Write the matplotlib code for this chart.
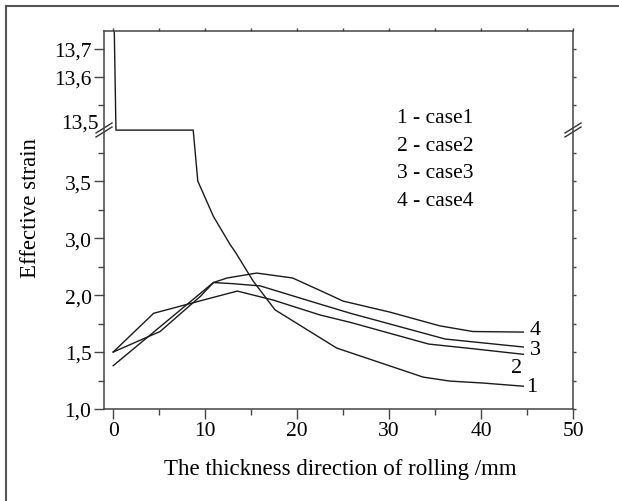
import numpy as np
import matplotlib
matplotlib.use("Agg")
import matplotlib.pyplot as plt
from matplotlib.lines import Line2D

plt.rcParams['font.family'] = ['Liberation Serif', 'DejaVu Serif']
plt.rcParams['font.size'] = 15.5

# データ (横軸: 厚さ方向 mm, 縦軸: 有効ひずみ)
x1 = [0.05, 0.3, 8.7, 9.2, 10.9, 12.7, 13.3, 15.2, 17.6, 24.3, 33.7, 36.6, 40.2, 44.6]
y1 = [13.9, 10.0, 10.0, 3.5, 3.19, 2.89, 2.75, 2.25, 1.87, 1.535, 1.28, 1.245, 1.228, 1.20]

x2 = [0, 4.4, 10.2, 13.5, 17.4, 22.5, 25.8, 34.3, 39.0, 44.6]
y2 = [1.50, 1.84, 1.965, 2.07, 1.956, 1.825, 1.76, 1.57, 1.53, 1.48]

x3 = [0, 5.1, 9.5, 10.9, 13.0, 16.0, 22.5, 25.8, 36.1, 44.6]
y3 = [1.50, 1.68, 1.99, 2.22, 2.20, 2.16, 1.92, 1.84, 1.614, 1.544]

x4 = [0, 10.9, 12.4, 15.6, 19.5, 22.5, 25.0, 30.1, 35.5, 39.1, 44.6]
y4 = [1.38, 2.22, 2.30, 2.386, 2.30, 2.08, 1.947, 1.85, 1.73, 1.68, 1.675]

series = [(x1, y1, '1'), (x2, y2, '2'), (x3, y3, '3'), (x4, y4, '4')]
legend_lines = ['1 - case1', '2 - case2', '3 - case3', '4 - case4']

y_major = [1.0, 1.5, 2.0, 3.0, 3.5, 13.6, 13.7]
y_major_labels = ['1,0', '1,5', '2,0', '3,0', '3,5', '13,6', '13,7']
y_minor = [1.25, 1.75, 2.5, 3.25, 3.75, 13.5]

# 縦軸の切断 (Origin風)
LO = 3.947
HI = 13.41
K = 2.456
EPS = 1e-4
P3 = LO - 0.5
P4 = P3 + (HI - LO) * EPS


def fwd(y):
    y = np.asarray(y, dtype=float)
    return np.where(y <= 2, y,
           np.where(y <= 3, 2 + (y - 2) / 2,
           np.where(y <= LO, y - 0.5,
           np.where(y <= HI, P3 + (y - LO) * EPS,
                    P4 + (y - HI) * K))))


def inv(p):
    p = np.asarray(p, dtype=float)
    return np.where(p <= 2, p,
           np.where(p <= 2.5, 2 + (p - 2) * 2,
           np.where(p <= P3, p + 0.5,
           np.where(p <= P4, LO + (p - P3) / EPS,
                    HI + (p - P4) / K))))


fig = plt.figure(figsize=(6.19, 5.02), dpi=100)
W, H = 619, 502
ax = fig.add_axes([104 / W, 1 - 410 / H, (573 - 104) / W, (410 - 32) / H])
ax.set_yscale('function', functions=(fwd, inv))

for xs, ys, lab in series:
    ax.plot(xs, ys, color='#1a1a1a', lw=1.0)

ax.set_xlim(-1, 50)
ax.set_ylim(1.0, 13.764)

ax.set_xticks([0, 10, 20, 30, 40, 50])
ax.set_xticks([5, 15, 25, 35, 45], minor=True)
ax.set_yticks(y_major)
ax.set_yticklabels(y_major_labels)
ax.set_yticks(y_minor, minor=True)

ax.tick_params(which='major', direction='out', length=7, width=1, color='#444444',
               top=True, right=True, pad=2)
ax.tick_params(which='minor', direction='out', length=4, width=1, color='#444444',
               top=True, right=True)
for s in ax.spines.values():
    s.set_color('#444444')
    s.set_linewidth(1.1)

# 切断記号
yb = (410 - 131) / 378
dx = 8 / 469
dy = 5 / 378
sep = 4 / 378
for xb in (0, 1):
    for off in (0, -sep):
        ax.add_line(Line2D([xb - dx, xb + dx], [yb - dy + off + sep / 2, yb + dy + off + sep / 2],
                           transform=ax.transAxes, color='#333333', lw=1, clip_on=False))
ax.text(-0.012, yb + 0.018, '13,5', transform=ax.transAxes, ha='right', va='center')

# 曲線番号
offsets = {'1': (8, 0), '2': (-7, -13), '3': (12, -2), '4': (12, 3)}
for xs, ys, lab in series:
    ax.annotate(lab, xy=(xs[-1], ys[-1]), xytext=offsets[lab], textcoords='offset pixels',
                ha='center', va='center', fontsize=16)

ax.text((397 - 104) / 469, (410 - 160) / 378, '\n'.join(legend_lines), transform=ax.transAxes,
        ha='left', va='center', linespacing=1.6)

fig.text(30 / W, 1 - 208 / H, 'Effective strain', rotation=90, ha='center', va='center', fontsize=16.5)
fig.text(340 / W, 1 - 470 / H, 'The thickness direction of rolling /mm', ha='center', va='center',
         fontsize=16.5)

# 外枠
fig.add_artist(Line2D([6 / W, 6 / W], [0, 1 - 7 / H], transform=fig.transFigure, color='#555555', lw=1.5))
fig.add_artist(Line2D([6 / W, 1], [1 - 7 / H, 1 - 7 / H], transform=fig.transFigure, color='#555555', lw=1.5))

# 上・右の目盛りは短く
fig.canvas.draw()
for t in ax.yaxis.get_major_ticks() + ax.yaxis.get_minor_ticks():
    t.tick2line.set_markersize(2.5)
for t in ax.xaxis.get_major_ticks() + ax.xaxis.get_minor_ticks():
    t.tick2line.set_markersize(2)

fig.savefig('out.png', dpi=100)
